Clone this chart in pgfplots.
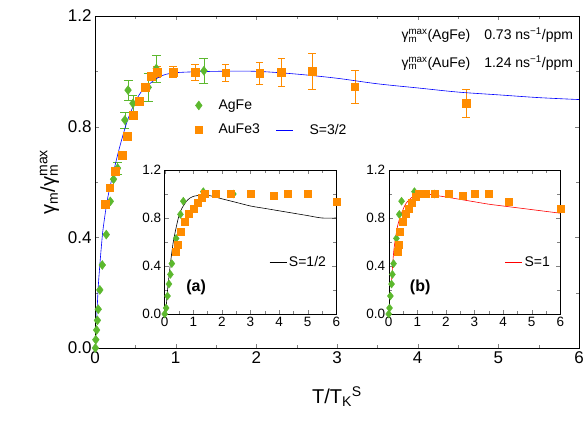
\documentclass[border=0pt]{standalone}
\usepackage{pgfplots}
\pgfplotsset{compat=1.18}
\usepackage{fontspec}
\setmainfont{Liberation Sans}
\definecolor{og}{RGB}{255,140,0}
\definecolor{gr}{RGB}{92,184,46}
\pgfplotsset{every axis/.append style={/pgf/number format/assume math mode=true, tick align=inside, scale only axis, xmin=0,xmax=6,ymin=0,ymax=1.2,
 xtick={0,1,...,6}, ytick={0,0.4,0.8,1.2}, minor x tick num=1, minor y tick num=1,
 yticklabel style={/pgf/number format/.cd,fixed,fixed zerofill,precision=1}}}
\begin{document}
\begin{tikzpicture}
\useasboundingbox (-95pt,-73pt) rectangle (489pt,348pt);
\begin{axis}[width=484pt,height=332pt, font=\fontsize{17}{19}\selectfont,
 xlabel={T/T\textsubscript{K}\textsuperscript{S}}, ylabel={γ\textsubscript{m}/γ\rlap{\textsubscript{m}}\textsuperscript{max}},
 label style={font=\fontsize{20}{22}\selectfont}, ylabel style={yshift=2pt}, xlabel style={yshift=-16pt},
 legend style={draw=none,fill=none,at={(0.2,0.76)},anchor=north west,font=\fontsize{14}{16}\selectfont,row sep=9pt,column sep=14pt},
 legend columns=2, legend cell align=left]
\addplot[only marks,mark=diamond*,mark size=4.5pt,color=gr,forget plot,error bars/.cd,y dir=both,y explicit] coordinates {
(0.005,0.0)(0.01,0.03)(0.02,0.065)(0.03,0.1)(0.04,0.14)(0.06,0.21)(0.09,0.30)(0.14,0.41)(0.19,0.53)(0.23,0.61)(0.28,0.65)+-(0,0.02)(0.37,0.824)+-(0,0.03)(0.41,0.932)+-(0,0.035)(0.47,0.884)+-(0,0.03)(0.66,0.942)+-(0,0.05)(0.76,1.01)+-(0,0.05)(1.35,1.002)+-(0,0.045)};
\addplot[only marks,mark=square*,mark size=3.8pt,color=og,forget plot,error bars/.cd,y dir=both,y explicit] coordinates {
(0.13,0.52)(0.18,0.58)(0.25,0.64)(0.34,0.696)(0.40,0.766)(0.47,0.842)(0.55,0.893)(0.62,0.942)(0.70,0.982)(0.77,0.997)+-(0,0.02)(0.97,0.997)+-(0,0.02)(1.24,0.997)+-(0,0.03)(1.62,0.995)+-(0,0.03)(2.04,0.993)+-(0,0.04)(2.31,0.997)+-(0,0.05)(2.69,1.0)+-(0,0.065)(3.22,0.944)+-(0,0.06)(4.60,0.884)+-(0,0.05)};
\addplot[blue,semithick,smooth,forget plot] coordinates {(0.02,0.1)(0.04,0.22)(0.06,0.3)(0.08,0.37)(0.1,0.43)(0.15,0.53)(0.2,0.6)(0.3,0.72)(0.4,0.82)(0.5,0.89)(0.6,0.935)(0.8,0.98)(1,0.995)(1.5,1.0)(2,1.0)(2.5,0.99)(3,0.975)(3.5,0.955)(4,0.94)(4.5,0.925)(5,0.915)(5.5,0.905)(6,0.898)};
\addlegendimage{only marks,mark=diamond*,mark size=4.5pt,color=gr}\addlegendentry{AgFe}
\addlegendimage{white,opacity=0}\addlegendentry{}
\addlegendimage{only marks,mark=square*,mark size=3.8pt,color=og}\addlegendentry{AuFe3}
\addlegendimage{blue,semithick}\addlegendentry{S=3/2}
\node[anchor=east,font=\fontsize{14}{16}\selectfont] at (axis cs:5.97,1.13) {γ\rlap{\textsubscript{m}}\textsuperscript{max}(AgFe)\quad 0.73 ns\textsuperscript{−1}/ppm};
\node[anchor=east,font=\fontsize{14}{16}\selectfont] at (axis cs:5.97,1.03) {γ\rlap{\textsubscript{m}}\textsuperscript{max}(AuFe)\quad 1.24 ns\textsuperscript{−1}/ppm};
\end{axis}
\begin{axis}[at={(69.7pt,34pt)},width=171.6pt,height=144pt,font=\fontsize{13.5}{15}\selectfont,
 legend style={draw=none,fill=none,at={(0.97,0.36)},anchor=east,font=\fontsize{14}{16}\selectfont}]
\addplot[only marks,mark=diamond*,mark size=4pt,color=gr,forget plot] coordinates {(0,0)(0.05,0.05)(0.1,0.15)(0.15,0.25)(0.2,0.33)(0.25,0.42)(0.4,0.63)(0.55,0.83)(0.65,0.94)(1.35,1.02)(2.4,1.0)};
\addplot[only marks,mark=square*,mark size=3.5pt,color=og,forget plot] coordinates {(0.4,0.52)(0.45,0.58)(0.55,0.69)(0.7,0.77)(0.85,0.84)(1,0.88)(1.15,0.93)(1.3,0.97)(1.4,1.0)(1.8,1.0)(2.3,1.0)(3,1.0)(3.8,0.99)(4.3,1.0)(5,1.0)(6,0.94)};
\addplot[black,semithick,smooth] coordinates {(0.05,0.05)(0.1,0.2)(0.2,0.42)(0.3,0.6)(0.4,0.72)(0.5,0.82)(0.6,0.88)(0.8,0.95)(1,0.98)(1.3,0.99)(1.6,0.985)(2,0.96)(2.5,0.93)(3,0.9)(3.5,0.88)(4,0.86)(4.5,0.84)(5,0.82)(5.5,0.8)(6,0.8)};
\addlegendentry{S=1/2}
\node[font=\fontsize{16}{18}\selectfont\bfseries] at (axis cs:1.1,0.22) {(a)};
\end{axis}
\begin{axis}[at={(293.7pt,34pt)},width=171.6pt,height=144pt,font=\fontsize{13.5}{15}\selectfont,
 legend style={draw=none,fill=none,at={(0.97,0.36)},anchor=east,font=\fontsize{14}{16}\selectfont}]
\addplot[only marks,mark=diamond*,mark size=4pt,color=gr,forget plot] coordinates {(0,0)(0.03,0.05)(0.06,0.15)(0.1,0.25)(0.13,0.33)(0.17,0.42)(0.27,0.63)(0.37,0.83)(0.45,0.94)(0.9,1.02)(1.6,1.0)};
\addplot[only marks,mark=square*,mark size=3.5pt,color=og,forget plot] coordinates {(0.3,0.52)(0.35,0.58)(0.4,0.69)(0.5,0.77)(0.6,0.84)(0.7,0.88)(0.8,0.93)(0.95,0.98)(1.05,1.0)(1.3,1.0)(1.6,1.0)(2.1,1.0)(2.6,0.99)(3,1.0)(3.5,1.0)(4.2,0.94)(6,0.88)};
\addplot[red,semithick,smooth] coordinates {(0.1,0.27)(0.15,0.45)(0.2,0.57)(0.3,0.72)(0.4,0.81)(0.5,0.87)(0.6,0.92)(0.8,0.97)(1,0.99)(1.3,1.0)(1.6,0.99)(2,0.975)(2.5,0.955)(3,0.935)(3.5,0.915)(4,0.9)(4.5,0.885)(5,0.87)(5.5,0.855)(6,0.84)};
\addlegendentry{S=1}
\node[font=\fontsize{16}{18}\selectfont\bfseries] at (axis cs:1.1,0.22) {(b)};
\end{axis}
\end{tikzpicture}
\end{document}
